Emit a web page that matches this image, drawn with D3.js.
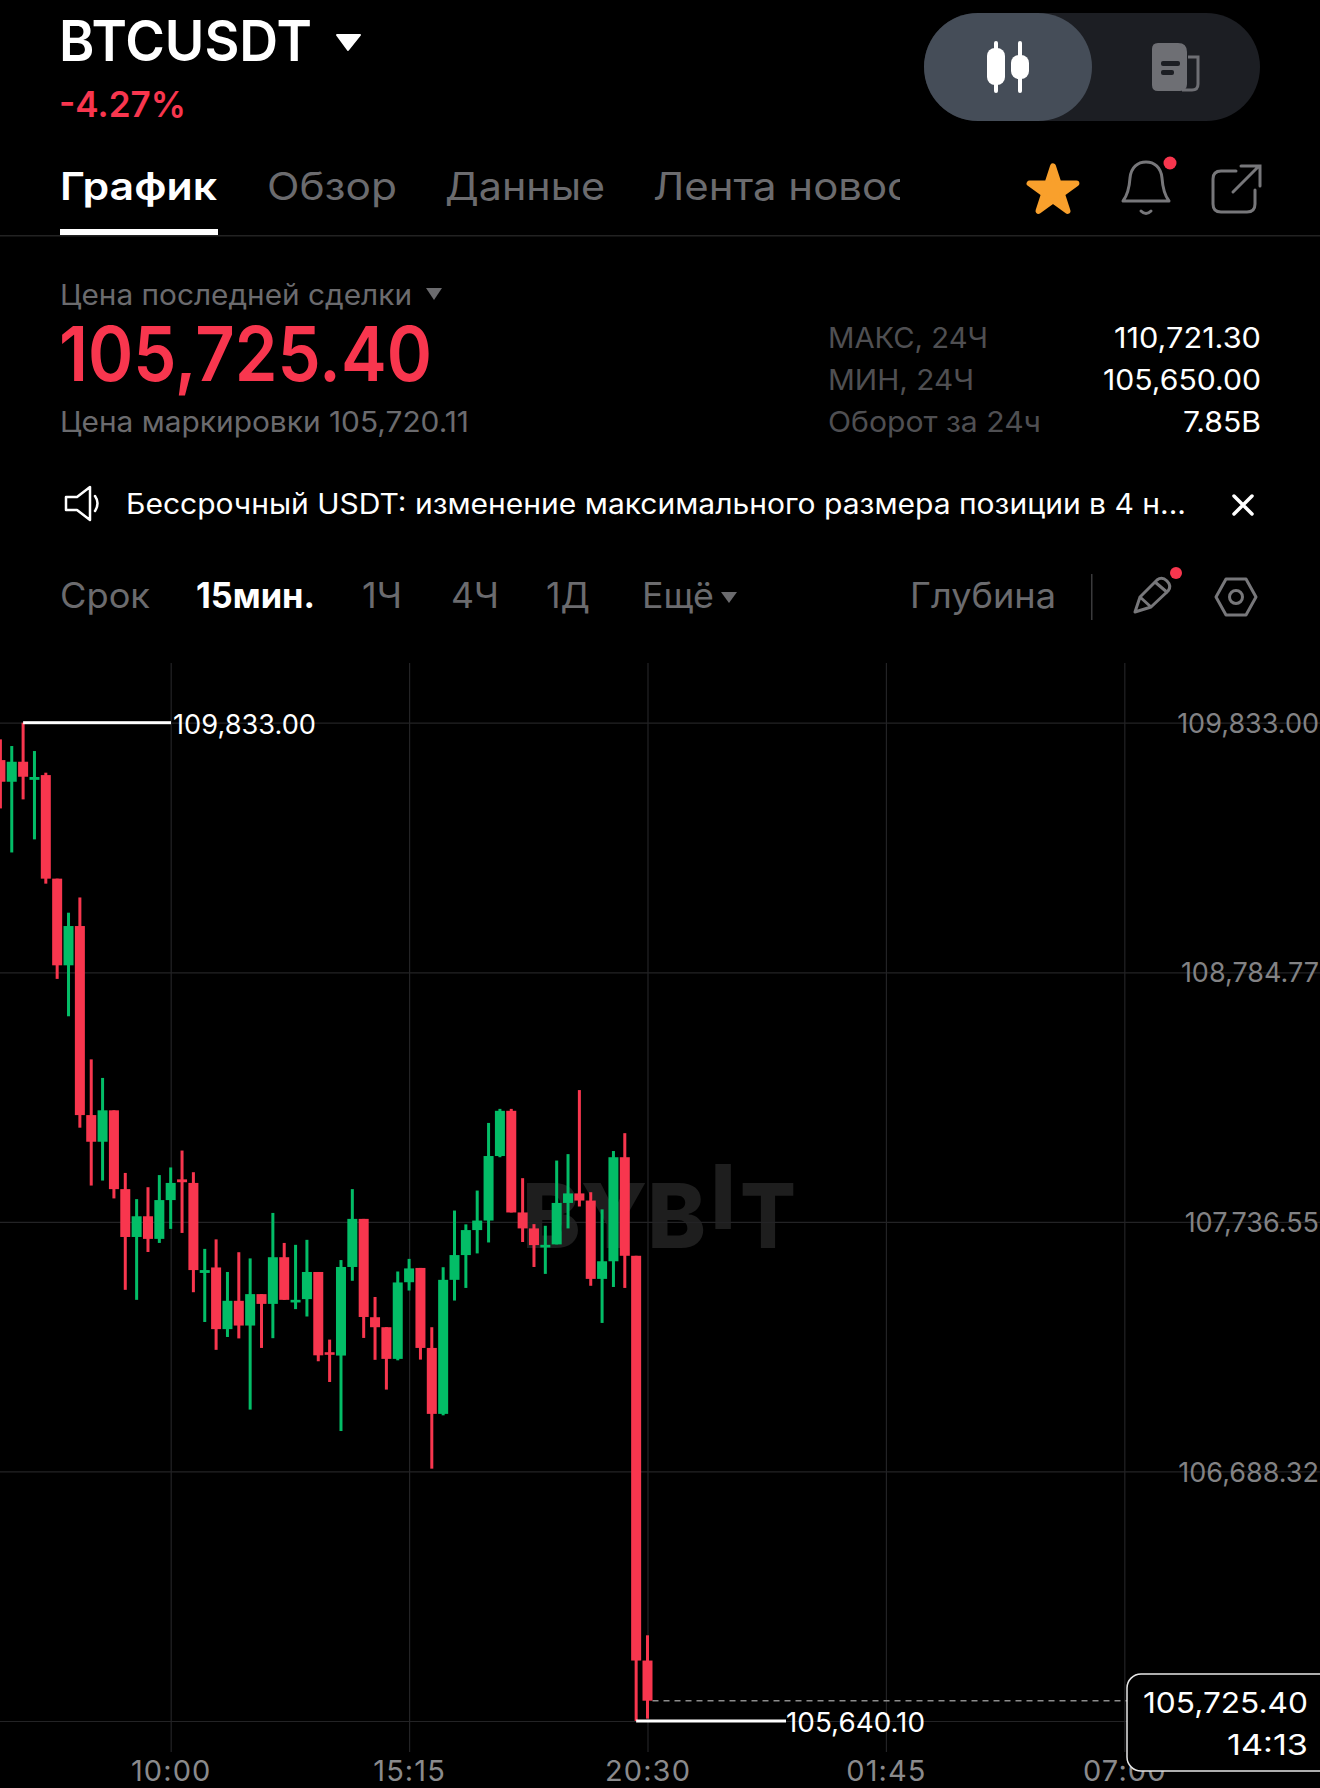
<!DOCTYPE html>
<html>
<head>
<meta charset="utf-8">
<title>BTCUSDT</title>
<script src="https://cdn.jsdelivr.net/npm/d3@7"></script>
<style>
html, body { margin: 0; background: #000; }
svg { display: block; }
text { font-family: Inter, Roboto, "Noto Sans", sans-serif; }
</style>
</head>
<body>
<script>
// 15 min candles
var candleOpen = [109676,109585,109669,109593,109613,109178,108814,108979,108185,108073,
	108205,107874,107673,107760,107665,107828,107915,107900,107522,107545,
	107286,107405,107301,107433,107392,107588,107398,107412,107526,107189,
	107175,107547,107749,107336,107294,107161,107483,107543,107207,106930,
	107493,107597,107702,107742,108013,108203,107776,107709,107629,107642,
	107816,107856,107826,107497,107571,108008,107594,105894];
var candleHigh = [109763,109735,109833,109714,109623,109178,109035,109099,108419,108341,
	108205,107942,107832,107882,107933,107965,108036,107945,107623,107663,
	107526,107609,107583,107433,107774,107648,107640,107661,107526,107242,
	107576,107874,107749,107421,107294,107528,107581,107543,107294,107546,
	107784,107726,107868,108152,108211,108211,107920,107727,107720,107994,
	108021,108290,107861,107789,108034,108109,107594,106000];
var candleLow = [109473,109288,109511,109343,109157,108757,108600,108132,107889,107910,
	107835,107451,107409,107610,107648,107707,107690,107441,107316,107199,
	107253,107247,106948,107207,107248,107409,107370,107339,107151,107064,
	106858,107489,107249,107157,107032,107155,107448,107158,106700,106924,
	107406,107459,107604,107650,108008,107776,107652,107547,107518,107642,
	107709,107801,107468,107312,107463,107459,105640.10,105650];
var candleClose = [109585,109669,109606,109605,109178,108814,108979,108185,108073,108205,
	107874,107673,107760,107665,107828,107900,107903,107534,107534,107286,
	107405,107301,107433,107392,107588,107409,107409,107526,107176,107179,
	107547,107749,107337,107294,107161,107482,107541,107207,106930,107493,
	107597,107702,107742,108013,108203,107776,107709,107639,107640,107816,
	107856,107826,107497,107571,108008,107594,105894,105725.40];

var priceTicks = [109833.00,108784.77,107736.55,106688.32,105640.10];
var timeTickIndex = [15,36,57,78,99];
var timeTickLabels = ["10:00","15:15","20:30","01:45","07:00"];

var maxPrice = 109833.00;
var minPrice = 105640.10;
var lastPrice = 105725.40;
var lastIndex = 57;

var RED = "#f8364e";
var GREEN = "#03bd67";
var GREY = "#6b6b6e";
var W = 1320, H = 1788;

var svg = d3.select("body").append("svg")
	.attr("width", W)
	.attr("height", H)
	.style("background", "#000");

// small helper for all the plain labels, w = width to squeeze the text into
function label(x, y, str, size, fill, weight, w, anchor) {
	var t = svg.append("text")
		.attr("x", x)
		.attr("y", y)
		.attr("font-size", size)
		.attr("font-weight", weight || 400)
		.attr("fill", fill)
		.attr("text-anchor", anchor || "start")
		.text(str);
	if (w) t.attr("textLength", w).attr("lengthAdjust", "spacingAndGlyphs");
	return t;
}

/* ---------- header ---------- */
label(59, 61, "BTCUSDT", 56, "#fff", 600, 253);
svg.append("path").attr("d", "M337,35 H360 L348,50 Z").attr("fill", "#fff").attr("stroke", "#fff").attr("stroke-width", 2).attr("stroke-linejoin", "round");
label(59, 117, "-4.27%", 36, RED, 600, 127);

// toggle
svg.append("rect").attr("x", 924).attr("y", 13).attr("width", 336).attr("height", 108).attr("rx", 54).attr("fill", "#1c1e23");
svg.append("rect").attr("x", 924).attr("y", 13).attr("width", 168).attr("height", 108).attr("rx", 54).attr("fill", "#454d58");
svg.append("rect").attr("x", 994).attr("y", 41).attr("width", 4).attr("height", 52).attr("rx", 2).attr("fill", "#fff");
svg.append("rect").attr("x", 987).attr("y", 48).attr("width", 18).attr("height", 37).attr("rx", 8).attr("fill", "#fff");
svg.append("rect").attr("x", 1018).attr("y", 41).attr("width", 4).attr("height", 52).attr("rx", 2).attr("fill", "#fff");
svg.append("rect").attr("x", 1011).attr("y", 55).attr("width", 18).attr("height", 24).attr("rx", 8).attr("fill", "#fff");
svg.append("path").attr("d", "M1158,43 H1178 Q1187,43 1187,52 V84 Q1187,91 1180,91 H1158 Q1152,91 1152,85 V49 Q1152,43 1158,43 Z").attr("fill", "#6e6f74");
svg.append("path").attr("d", "M1188,57 H1198 V84 Q1198,90 1192,90 H1182").attr("fill", "none").attr("stroke", "#6e6f74").attr("stroke-width", 3);
svg.append("rect").attr("x", 1161).attr("y", 61).attr("width", 19).attr("height", 5).attr("rx", 2).attr("fill", "#1c1e23");
svg.append("rect").attr("x", 1161).attr("y", 70).attr("width", 13).attr("height", 5).attr("rx", 2).attr("fill", "#1c1e23");

/* ---------- tabs ---------- */
svg.append("clipPath").attr("id", "tabclip").append("rect").attr("x", 600).attr("y", 150).attr("width", 300).attr("height", 80);
label(60, 200, "График", 38, "#fff", 600, 157);
label(267, 200, "Обзор", 38, GREY, 400, 130);
label(445, 200, "Данные", 38, GREY, 400, 160);
label(653, 200, "Лента новостей", 38, GREY, 400, 326).attr("clip-path", "url(#tabclip)");
svg.append("rect").attr("x", 60).attr("y", 229).attr("width", 158).attr("height", 6).attr("fill", "#fff");
svg.append("rect").attr("x", 0).attr("y", 235).attr("width", W).attr("height", 1.5).attr("fill", "#222");

svg.append("path").attr("d", d3.symbol(d3.symbolStar, 680)()).attr("transform", "translate(1053,191)")
	.attr("fill", "#f9a02c").attr("stroke", "#f9a02c").attr("stroke-width", 6).attr("stroke-linejoin", "round");
svg.append("path").attr("d", "M1123,201 H1169 Q1163,193 1162,178 C1161,167 1154,162 1146,162 C1138,162 1131,167 1130,178 Q1129,193 1123,201 Z M1141,211 Q1146,216 1151,211")
	.attr("fill", "none").attr("stroke", "#77777a").attr("stroke-width", 3).attr("stroke-linejoin", "round").attr("stroke-linecap", "round");
svg.append("circle").attr("cx", 1170).attr("cy", 163).attr("r", 6.5).attr("fill", RED);
svg.append("path").attr("d", "M1236,171 H1221 Q1213,171 1213,179 V204 Q1213,212 1221,212 H1247 Q1255,212 1255,204 V190 M1233,192 L1259,166 M1241,166 H1260 V186")
	.attr("fill", "none").attr("stroke", "#77777a").attr("stroke-width", 3).attr("stroke-linecap", "round");

/* ---------- price block ---------- */
label(60, 305, "Цена последней сделки", 28, GREY, 400, 352);
svg.append("path").attr("d", "M426,288 H442 L434,300 Z").attr("fill", GREY);
label(59, 381, "105,725.40", 76, RED, 600, 373);
label(60, 432, "Цена маркировки 105,720.11", 28, GREY, 400, 409);

label(828, 348, "МАКС, 24Ч", 28, "#4f4f52", 400, 160);
label(828, 390, "МИН, 24Ч", 28, "#4f4f52", 400, 146);
label(828, 432, "Оборот за 24ч", 28, "#4f4f52", 400, 213);
label(1261, 348, "110,721.30", 28, "#fff", 400, 147, "end");
label(1261, 390, "105,650.00", 28, "#fff", 400, 158, "end");
label(1261, 432, "7.85B", 28, "#fff", 400, 78, "end");

/* ---------- notice ---------- */
svg.append("path").attr("d", "M66,497 H77 L90,487 V520 L77,510 H66 Z M95,496 Q100,503 95,511")
	.attr("fill", "none").attr("stroke", "#fff").attr("stroke-width", 2.5).attr("stroke-linejoin", "round").attr("stroke-linecap", "round");
label(126, 514, "Бессрочный USDT: изменение максимального размера позиции в 4 н...", 28, "#fff", 400, 1060);
svg.append("path").attr("d", "M1234,496 L1252,514 M1252,496 L1234,514").attr("stroke", "#fff").attr("stroke-width", 3.5).attr("stroke-linecap", "round");

/* ---------- interval row ---------- */
label(60, 608, "Срок", 35, GREY, 400, 90);
label(196, 608, "15мин.", 35, "#fff", 700, 119);
label(362, 608, "1Ч", 35, GREY, 400, 40);
label(451, 608, "4Ч", 35, GREY, 400, 48);
label(546, 608, "1Д", 35, GREY, 400, 44);
label(642, 608, "Ещё", 35, GREY, 400, 72);
svg.append("path").attr("d", "M721,592 H737 L729,603 Z").attr("fill", GREY);
label(910, 608, "Глубина", 35, GREY, 400, 146);
svg.append("rect").attr("x", 1091).attr("y", 574).attr("width", 1.5).attr("height", 46).attr("fill", "#3a3a3c");
svg.append("path").attr("d", "M1135,612 L1140,597 L1157,580 Q1162,576 1167,581 Q1172,586 1168,591 L1151,607 Z M1140,597 L1151,607 M1155,582 L1168,593")
	.attr("fill", "none").attr("stroke", "#77777a").attr("stroke-width", 3).attr("stroke-linejoin", "round");
svg.append("circle").attr("cx", 1176).attr("cy", 573).attr("r", 6).attr("fill", RED);
svg.append("path").attr("d", "M1216,597 L1226,579 H1246 L1256,597 L1246,615 H1226 Z")
	.attr("fill", "none").attr("stroke", "#77777a").attr("stroke-width", 3).attr("stroke-linejoin", "round");
svg.append("circle").attr("cx", 1236).attr("cy", 597).attr("r", 6.5).attr("fill", "none").attr("stroke", "#77777a").attr("stroke-width", 3);

/* ---------- chart ---------- */
var x = d3.scaleLinear().domain([0, lastIndex]).range([0.4, 647.5]);
var y = d3.scaleLinear().domain([minPrice, maxPrice]).range([1721, 722.7]);
var chartTop = 663, chartBottom = 1752;

// watermark sits under everything
label(522, 1248, "BYB", 90, "#1e1e1e", 800, 184);
label(723, 1229, "I", 90, "#1e1e1e", 800, 0, "middle");
label(740, 1248, "T", 90, "#1e1e1e", 800, 56);

// grid
var gridY = d3.axisLeft(y).tickValues(priceTicks).tickSize(W).tickFormat("");
svg.append("g").attr("class", "grid").attr("transform", "translate(" + W + ",0)").call(gridY);
var gridX = d3.axisBottom(x).tickValues(timeTickIndex).tickSize(-(chartBottom - chartTop)).tickFormat("");
svg.append("g").attr("class", "grid").attr("transform", "translate(0," + chartBottom + ")").call(gridX);
svg.selectAll(".grid path").remove();
svg.selectAll(".grid line").attr("stroke", "#232325").attr("stroke-width", 1.2);

// candles
var candles = d3.range(candleOpen.length);
var bodyW = 10, wickW = 3;

svg.append("g").selectAll("rect")
	.data(candles)
	.enter()
	.append("rect")
	.attr("x", function(i) { return x(i) - wickW / 2; })
	.attr("y", function(i) { return y(candleHigh[i]); })
	.attr("width", wickW)
	.attr("height", function(i) { return y(candleLow[i]) - y(candleHigh[i]); })
	.attr("fill", function(i) { return candleClose[i] >= candleOpen[i] ? GREEN : RED; });

svg.append("g").selectAll("rect")
	.data(candles)
	.enter()
	.append("rect")
	.attr("x", function(i) { return x(i) - bodyW / 2; })
	.attr("y", function(i) { return y(Math.max(candleOpen[i], candleClose[i])); })
	.attr("width", bodyW)
	.attr("height", function(i) { return Math.max(2.6, Math.abs(y(candleOpen[i]) - y(candleClose[i]))); })
	.attr("fill", function(i) { return candleClose[i] >= candleOpen[i] ? GREEN : RED; });

// high / low markers
var highIndex = candleHigh.indexOf(maxPrice);
var lowIndex = candleLow.indexOf(minPrice);
svg.append("rect").attr("x", x(highIndex)).attr("y", y(maxPrice) - 1.5).attr("width", 171 - x(highIndex)).attr("height", 3).attr("fill", "#fff");
label(173, y(maxPrice) + 11, d3.format(",.2f")(maxPrice), 27, "#fff", 400, 143);
svg.append("rect").attr("x", x(lowIndex)).attr("y", y(minPrice) - 1.5).attr("width", 786 - x(lowIndex)).attr("height", 3).attr("fill", "#fff");
label(786, y(minPrice) + 11, d3.format(",.2f")(minPrice), 27, "#fff", 400, 139);

// axes
var yAxis = d3.axisLeft(y).tickValues(priceTicks).tickSize(0).tickPadding(1).tickFormat(d3.format(",.2f"));
var gy = svg.append("g").attr("transform", "translate(" + W + ",1)").call(yAxis);
gy.select("path").remove();
gy.selectAll("text").attr("font-size", 27).attr("fill", "#828284").attr("font-family", "Inter");

var xAxis = d3.axisBottom(x).tickValues(timeTickIndex).tickSize(0).tickPadding(8.4)
	.tickFormat(function(d, i) { return timeTickLabels[i]; });
var gx = svg.append("g").attr("transform", "translate(0," + chartBottom + ")").call(xAxis);
gx.select("path").remove();
gx.selectAll("text").attr("font-size", 29).attr("letter-spacing", 1.1).attr("fill", "#8a8a8c").attr("font-family", "Inter");

// last price line + box
svg.append("line")
	.attr("x1", x(lastIndex) + 5).attr("x2", 1128)
	.attr("y1", y(lastPrice)).attr("y2", y(lastPrice))
	.attr("stroke", "#8c8c8c").attr("stroke-width", 1.5).attr("stroke-dasharray", "6 5");
svg.append("rect").attr("x", 1127).attr("y", 1674).attr("width", 215).attr("height", 97).attr("rx", 14)
	.attr("fill", "#000").attr("stroke", "#e8e8e8").attr("stroke-width", 1.5);
label(1308, 1713, d3.format(",.2f")(lastPrice), 29, "#fff", 400, 165, "end");
label(1308, 1755, "14:13", 29, "#fff", 400, 81, "end");
</script>
</body>
</html>
